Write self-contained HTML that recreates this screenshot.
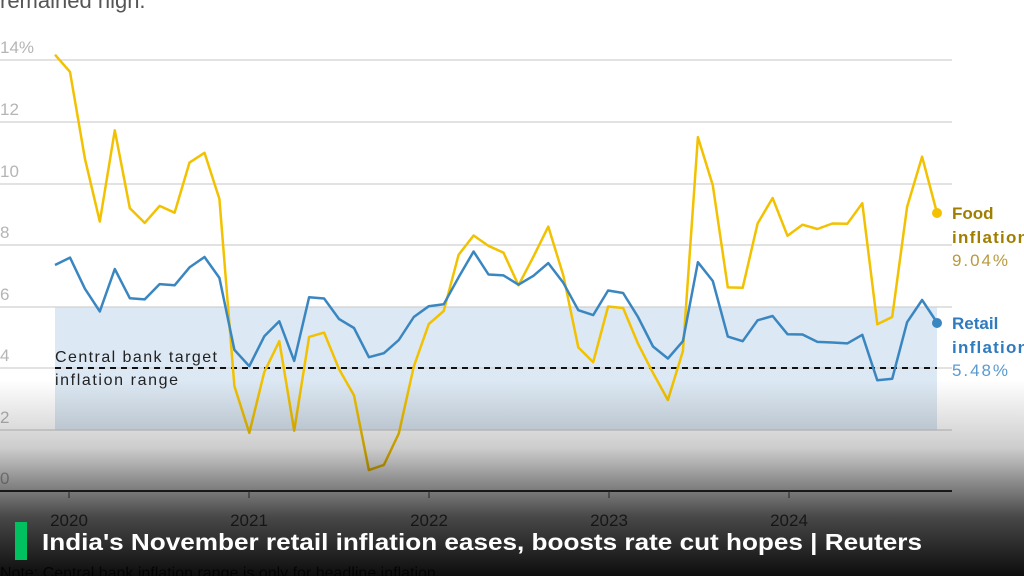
<!DOCTYPE html>
<html><head><meta charset="utf-8"><style>
html,body{margin:0;padding:0;background:#fff;width:1024px;height:576px;overflow:hidden;font-family:"Liberation Sans",sans-serif}
</style></head><body>
<svg id="s" width="1024" height="576" viewBox="0 0 1024 576" xmlns="http://www.w3.org/2000/svg">
<defs>
<linearGradient id="g" x1="0" y1="0" x2="0" y2="1">
<stop offset="0" stop-color="#000" stop-opacity="0"/>
<stop offset="0.35" stop-color="#000" stop-opacity="0.2"/>
<stop offset="0.7" stop-color="#000" stop-opacity="0.72"/>
<stop offset="1" stop-color="#000" stop-opacity="0.95"/>
</linearGradient>
</defs>
<text x="0" y="8" font-size="22" fill="#555">remained high.</text>
<rect x="55" y="307" width="882" height="123" fill="#dce8f3"/>
<g stroke="#d0d0d0" stroke-width="1.2">
<line x1="0" y1="60" x2="952" y2="60"/><line x1="0" y1="122" x2="952" y2="122"/>
<line x1="0" y1="184" x2="952" y2="184"/><line x1="0" y1="245" x2="952" y2="245"/>
<line x1="0" y1="307" x2="952" y2="307"/><line x1="0" y1="368" x2="952" y2="368"/>
<line x1="0" y1="430" x2="952" y2="430"/>
</g>
<g font-size="17" fill="#b5b5b5">
<text x="0" y="53">14%</text><text x="0" y="115">12</text><text x="0" y="177">10</text>
<text x="0" y="238">8</text><text x="0" y="300">6</text><text x="0" y="361">4</text>
<text x="0" y="423">2</text><text x="0" y="484">0</text>
</g>
<line x1="55" y1="368" x2="937" y2="368" stroke="#111" stroke-width="2" stroke-dasharray="6,5"/>
<text x="55" y="362" font-size="16" fill="#222" textLength="162">Central bank target</text>
<text x="55" y="385" font-size="16" fill="#222" textLength="123">inflation range</text>
<polyline id="food" fill="none" stroke="#f2c200" stroke-width="2.5" stroke-linejoin="round"/>
<polyline id="cpi" fill="none" stroke="#3a86c1" stroke-width="2.5" stroke-linejoin="round"/>
<circle cx="937" cy="213" r="5" fill="#f2c200"/>
<circle cx="937" cy="323" r="5" fill="#3a86c1"/>
<text x="952" y="219" font-size="17" font-weight="bold" fill="#a07e00">Food</text>
<text x="952" y="243" font-size="17" font-weight="bold" fill="#a07e00" textLength="76">inflation</text>
<text x="952" y="266" font-size="17" fill="#b89a40" textLength="56">9.04%</text>
<text x="952" y="329" font-size="17" font-weight="bold" fill="#2e7bbf">Retail</text>
<text x="952" y="353" font-size="17" font-weight="bold" fill="#2e7bbf" textLength="76">inflation</text>
<text x="952" y="376" font-size="17" fill="#5a9ad0" textLength="56">5.48%</text>
<line x1="0" y1="491" x2="952" y2="491" stroke="#333" stroke-width="2"/>
<g stroke="#555" stroke-width="1">
<line x1="69" y1="491" x2="69" y2="498"/><line x1="249" y1="491" x2="249" y2="498"/>
<line x1="429" y1="491" x2="429" y2="498"/><line x1="609" y1="491" x2="609" y2="498"/>
<line x1="789" y1="491" x2="789" y2="498"/>
</g>
<g font-size="17" fill="#555" text-anchor="middle">
<text x="69" y="526">2020</text><text x="249" y="526">2021</text><text x="429" y="526">2022</text>
<text x="609" y="526">2023</text><text x="789" y="526">2024</text>
</g>
<text x="0" y="578" font-size="16" fill="#333">Note: Central bank inflation range is only for headline inflation</text>
<rect x="0" y="380" width="1024" height="196" fill="url(#g)"/>
<rect x="15" y="522" width="12" height="38" fill="#00c060"/>
<text x="42" y="550" font-size="23" font-weight="bold" fill="#fff" textLength="880" lengthAdjust="spacingAndGlyphs">India's November retail inflation eases, boosts rate cut hopes | Reuters</text>
</svg>
<script>
var f=[14.19,13.63,10.81,8.76,11.73,9.2,8.72,9.27,9.05,10.68,11.0,9.5,3.41,1.89,3.87,4.87,1.96,5.01,5.15,3.96,3.11,0.68,0.85,1.87,4.05,5.43,5.85,7.68,8.31,7.97,7.75,6.69,7.62,8.6,7.01,4.67,4.19,6.0,5.95,4.79,3.84,2.96,4.55,11.51,9.94,6.62,6.61,8.7,9.53,8.3,8.66,8.52,8.7,8.69,9.36,5.42,5.66,9.24,10.87,9.04];
var c=[7.35,7.59,6.58,5.84,7.22,6.27,6.23,6.73,6.69,7.27,7.61,6.93,4.59,4.06,5.03,5.52,4.23,6.3,6.26,5.59,5.3,4.35,4.48,4.91,5.66,6.01,6.07,6.95,7.79,7.04,7.01,6.71,7.0,7.41,6.77,5.88,5.72,6.52,6.44,5.66,4.7,4.31,4.87,7.44,6.83,5.02,4.87,5.55,5.69,5.1,5.09,4.85,4.83,4.8,5.08,3.6,3.65,5.49,6.21,5.48];
function p(a){return a.map(function(v,i){return (55+i*14.95).toFixed(1)+","+(491-v*30.75).toFixed(1)}).join(" ")}
document.getElementById("food").setAttribute("points",p(f));
document.getElementById("cpi").setAttribute("points",p(c));
</script>
</body></html>
